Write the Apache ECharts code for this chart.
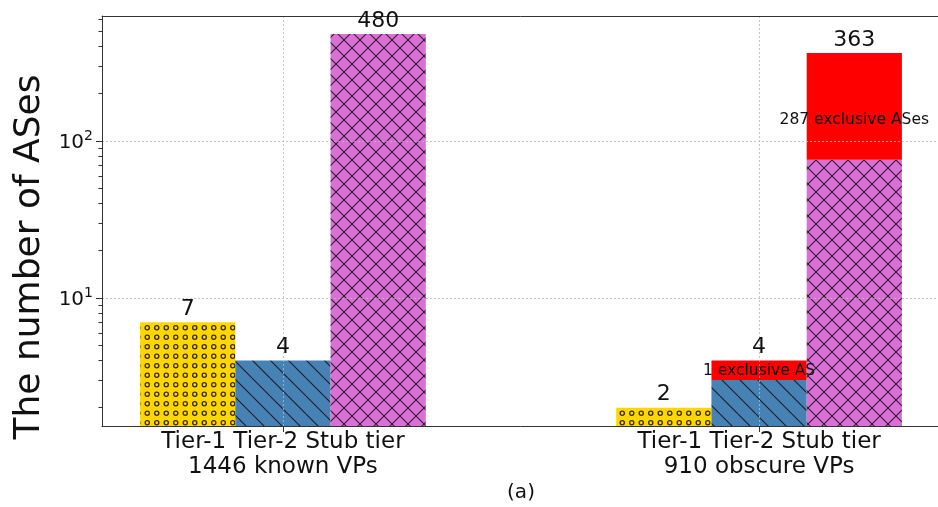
<!DOCTYPE html>
<html>
<head>
<meta charset="utf-8">
<script src="https://cdn.jsdelivr.net/npm/echarts@6/dist/echarts.min.js"></script>
<style>
html,body{margin:0;padding:0;background:#fff;}
#chart{width:938px;height:507px;}
</style>
</head>
<body>
<div id="chart"></div>
<script>
// ---- data ----
const groupNames = ['1446 known VPs', '910 obscure VPs'];
const tierNames = ['Tier-1', 'Tier-2', 'Stub tier'];
const sharedValues = [[7, 4, 480], [2, 3, 76]];      // hatched part of each bar
const exclusiveValues = [[0, 0, 0], [0, 1, 287]];    // red part on top
const exclusiveLabelAt = [[null, null, null], [null, 3.45, 136]]; // where the red-part text sits (data units)
const yMajorTicks = [10, 100];
const yMinorTicks = [2, 3, 4, 5, 6, 7, 8, 9, 20, 30, 40, 50, 60, 70, 80, 90, 200, 300, 400, 500, 600];
const xTicks = [0, 1];

// ---- layout / style constants ----
const Y_MIN = 1.53, Y_MAX = 625;
const X_MIN = -0.38, X_MAX = 1.38;
const BAR_W = 0.2;
const FONT = 'DejaVu Sans';
const tierColors = ['#FFD700', '#4682B4', '#DA70D6'];
const RED = '#FF0000';

function makePattern(kind, bg) {
  const c = document.createElement('canvas');
  let s;
  if (kind === 0) s = 19; else if (kind === 1) s = 18; else s = 16;
  c.width = s; c.height = s;
  const ctx = c.getContext('2d');
  ctx.fillStyle = bg; ctx.fillRect(0, 0, s, s);
  ctx.strokeStyle = 'rgba(20,10,20,0.85)';
  ctx.lineWidth = 1.1;
  if (kind === 0) {
    const step = s / 2;
    ctx.lineWidth = 1.3;
    for (let i = 0; i < 2; i++) for (let j = 0; j < 2; j++) {
      ctx.beginPath();
      ctx.arc(step / 2 + i * step, step / 2 + j * step, 2.1, 0, Math.PI * 2);
      ctx.stroke();
    }
  } else if (kind === 1) {
    ctx.beginPath();
    for (let k = -1; k <= 1; k++) { ctx.moveTo(k * s, 0); ctx.lineTo(k * s + s, s); }
    ctx.stroke();
  } else {
    ctx.beginPath();
    for (let k = -1; k <= 1; k++) {
      ctx.moveTo(k * s, 0); ctx.lineTo(k * s + s, s);
      ctx.moveTo(k * s + s, 0); ctx.lineTo(k * s, s);
    }
    ctx.stroke();
  }
  return { image: c, repeat: 'repeat' };
}
const patterns = tierColors.map((col, i) => makePattern(i, col));

// segments: [group, tier, low, high, isExclusive]
const segData = [];
const totalData = [];
const exLabelData = [];
for (let g = 0; g < groupNames.length; g++) {
  for (let t = 0; t < tierNames.length; t++) {
    const base = sharedValues[g][t];
    const ex = exclusiveValues[g][t];
    segData.push([g, t, Y_MIN, base, 0]);
    if (ex > 0) {
      segData.push([g, t, base, base + ex, 1]);
      exLabelData.push({ value: [g, t, exclusiveLabelAt[g][t]], name: ex + ' exclusive AS' + (ex > 1 ? 'es' : '') });
    }
    totalData.push([g, t, base + ex]);
  }
}

function xCenter(g, t) { return g + (t - 1) * BAR_W; }

const chart = echarts.init(document.getElementById('chart'), null, { renderer: 'canvas' });
const axisColor = '#333';
const gridLine = { show: true, lineStyle: { color: '#b8b8b8', width: 0.8, type: [2, 2] } };

chart.setOption({
  animation: false,
  backgroundColor: '#fff',
  grid: { left: 102, top: 16, width: 838, height: 410, containLabel: false, outerBoundsMode: 'none' },
  xAxis: [{
    type: 'value', min: X_MIN, max: X_MAX, z: 10,
    name: '(a)', nameLocation: 'middle', nameGap: 57, nameMoveOverlap: false,
    nameTextStyle: { fontFamily: FONT, fontSize: 20, color: '#111' },
    axisLine: { show: true, onZero: false, lineStyle: { color: axisColor, width: 1 } },
    axisTick: { show: true, length: 6, customValues: xTicks, lineStyle: { color: axisColor } },
    axisLabel: {
      customValues: xTicks, margin: 4,
      fontFamily: FONT, fontSize: 23, lineHeight: 25, color: '#111',
      formatter: v => tierNames.join(' ') + '\n' + groupNames[Math.round(v)]
    },
    splitLine: gridLine
  }, {
    type: 'value', min: X_MIN, max: X_MAX, position: 'top', z: 10,
    axisLine: { show: true, onZero: false, lineStyle: { color: axisColor, width: 1 } },
    axisTick: { show: false }, axisLabel: { show: false }, splitLine: { show: false }
  }],
  yAxis: [{
    type: 'log', logBase: 10, min: Y_MIN, max: Y_MAX, z: 10, position: 'left',
    name: 'The number of ASes', nameLocation: 'middle', nameGap: 54, nameRotate: 90, nameMoveOverlap: false,
    nameTextStyle: { fontFamily: FONT, fontSize: 36, color: '#111', padding: [0, 72, 0, 0] },
    axisLine: { show: true, onZero: false, lineStyle: { color: axisColor, width: 1 } },
    axisTick: { show: true, length: 6, customValues: yMajorTicks, lineStyle: { color: axisColor } },
    axisLabel: {
      customValues: yMajorTicks, margin: 9, color: '#111',
      formatter: v => '{b|10}{s|' + Math.round(Math.log10(v)) + '}',
      rich: {
        b: { fontFamily: FONT, fontSize: 20, color: '#111', lineHeight: 24, verticalAlign: 'bottom' },
        s: { fontFamily: FONT, fontSize: 14, color: '#111', lineHeight: 24, verticalAlign: 'top' }
      }
    },
    splitLine: gridLine
  }, {
    type: 'log', logBase: 10, min: Y_MIN, max: Y_MAX, position: 'left', offset: 0, z: 10,
    axisLine: { show: false, onZero: false },
    axisTick: { show: true, length: 3.5, customValues: yMinorTicks, lineStyle: { color: axisColor } },
    axisLabel: { show: false }, splitLine: { show: false }
  }],
  series: [{
    type: 'custom', z: 2, clip: true,
    xAxisIndex: 0, yAxisIndex: 0,
    encode: { x: 0, y: 3 },
    data: segData,
    renderItem: (params, api) => {
      const g = api.value(0), t = api.value(1), lo = api.value(2), hi = api.value(3), ex = api.value(4);
      const xc = xCenter(g, t);
      const p1 = api.coord([xc - BAR_W / 2, hi]);
      const p2 = api.coord([xc + BAR_W / 2, lo]);
      return {
        type: 'rect',
        shape: { x: p1[0], y: p1[1], width: p2[0] - p1[0], height: p2[1] - p1[1] },
        style: { fill: ex ? RED : patterns[t], stroke: null }
      };
    }
  }, {
    type: 'custom', z: 20, clip: false,
    xAxisIndex: 0, yAxisIndex: 0,
    encode: { x: 0, y: 2 },
    data: totalData,
    renderItem: (params, api) => {
      const g = api.value(0), t = api.value(1), v = api.value(2);
      const p = api.coord([xCenter(g, t), v]);
      return {
        type: 'text',
        style: { x: p[0], y: p[1] - 13, text: String(v), align: 'center', verticalAlign: 'middle',
                 fontFamily: FONT, fontSize: 22, fill: '#111' }
      };
    }
  }, {
    type: 'custom', z: 20, clip: false,
    xAxisIndex: 0, yAxisIndex: 0,
    encode: { x: 0, y: 2 },
    data: exLabelData,
    renderItem: (params, api) => {
      const g = api.value(0), t = api.value(1), v = api.value(2);
      const p = api.coord([xCenter(g, t), v]);
      return {
        type: 'text',
        style: { x: p[0], y: p[1], text: exLabelData[params.dataIndex].name, align: 'center', verticalAlign: 'middle',
                 fontFamily: FONT, fontSize: 15.5, fill: '#111' }
      };
    }
  }]
});
</script>
</body>
</html>
